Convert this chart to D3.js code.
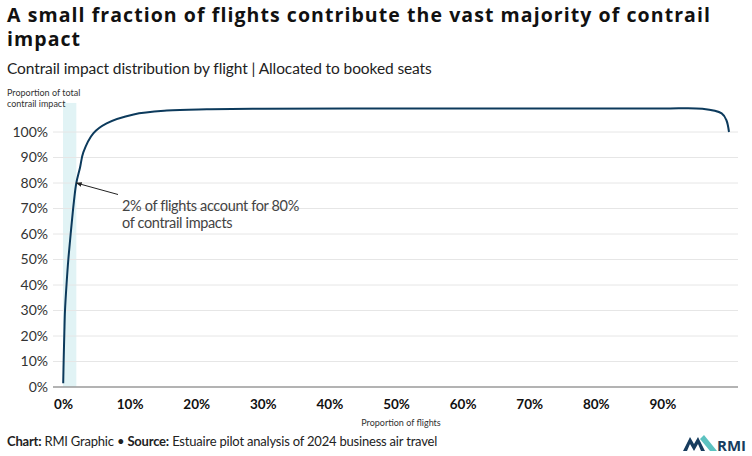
<!DOCTYPE html>
<html>
<head>
<meta charset="utf-8">
<script src="https://cdn.jsdelivr.net/npm/d3@7"></script>
<style>
  body { margin: 0; background: #fff; }
  svg { display: block; }
</style>
</head>
<body>
<svg width="752" height="456"></svg>
<script>
// proportion of flights (%) and cumulative contrail impact (%)
const flightShare = [0.03, 0.1, 0.2, 0.3, 0.55, 0.8, 1.15, 1.65, 2, 2.55, 3.05, 4.55, 6.55, 10.6, 15.6, 21.6, 30, 50, 70, 90, 96, 98.9, 99.6, 100];
const impactShare = [1.5, 10.5, 21, 30, 41, 50, 60, 73, 80, 86, 92, 99.5, 103.4, 106.9, 108.4, 108.9, 109.1, 109.2, 109.2, 109.2, 109.1, 107.3, 104.7, 100];
const yTicks = [0, 10, 20, 30, 40, 50, 60, 70, 80, 90, 100];
const xTicks = [0, 10, 20, 30, 40, 50, 60, 70, 80, 90];
const highlight = [0, 2];

const svg = d3.select("svg");
const font = "Lato, 'Open Sans', sans-serif";

const x = d3.scaleLinear().domain([0, 100]).range([63, 729]);
const y = d3.scaleLinear().domain([0, 100]).range([387, 132]);
const plotLeft = 53, plotRight = 738, plotTop = y(111.4);

// spread or squeeze letters so a text spans the wanted width
function fit(sel, w) {
  const n = sel.node();
  const len = n.getComputedTextLength();
  const chars = sel.text().length;
  sel.attr("letter-spacing", ((w - len) / chars).toFixed(3));
  return sel;
}

// titles
fit(svg.append("text").attr("x", 7).attr("y", 22).attr("font-family", "'Open Sans', sans-serif")
  .attr("font-weight", 700).attr("font-size", 19.5).attr("fill", "#111")
  .text("A small fraction of flights contribute the vast majority of contrail"), 704);
svg.append("text").attr("x", 7).attr("y", 46).attr("font-family", "'Open Sans', sans-serif")
  .attr("font-weight", 700).attr("font-size", 19.5).attr("fill", "#111")
  .attr("letter-spacing", svg.select("text").attr("letter-spacing"))
  .text("impact");
fit(svg.append("text").attr("x", 7).attr("y", 74).attr("font-family", font)
  .attr("font-size", 15.5).attr("fill", "#222")
  .text("Contrail impact distribution by flight | Allocated to booked seats"), 425);

// highlighted band
svg.append("rect")
  .attr("x", x(highlight[0])).attr("width", x(highlight[1]) - x(highlight[0]))
  .attr("y", plotTop).attr("height", y(0) - plotTop)
  .attr("fill", "#e1f3f5");

// grid
svg.append("g").selectAll("line").data(yTicks.slice(1)).join("line")
  .attr("x1", plotLeft).attr("x2", plotRight)
  .attr("y1", d => y(d)).attr("y2", d => y(d))
  .attr("stroke", "#e6e6e6").attr("stroke-width", 1);

// y axis labels
const yAxis = svg.append("g").attr("transform", "translate(48,0)")
  .call(d3.axisLeft(y).tickValues(yTicks).tickSize(0).tickPadding(0).tickFormat(d => d + "%"));
yAxis.select(".domain").remove();
yAxis.selectAll("text").attr("font-family", font).attr("font-size", 14).attr("fill", "#333");

// x axis
const xAxis = svg.append("g").attr("transform", `translate(0,${y(0)})`)
  .call(d3.axisBottom(x).tickValues(xTicks).tickSize(0).tickPadding(12).tickFormat(d => d + "%"));
xAxis.select(".domain").remove();
xAxis.selectAll("text").attr("font-family", font).attr("font-weight", 700).attr("font-size", 13.5).attr("fill", "#111");
svg.append("line").attr("x1", plotLeft).attr("x2", plotRight)
  .attr("y1", y(0)).attr("y2", y(0)).attr("stroke", "#9a9a9a").attr("stroke-width", 1.5);

// axis titles
svg.append("text").attr("x", 7).attr("y", 96).attr("font-family", font).attr("font-size", 9).attr("fill", "#333")
  .text("Proportion of total");
svg.append("text").attr("x", 7).attr("y", 107).attr("font-family", font).attr("font-size", 9).attr("fill", "#333")
  .text("contrail impact");
svg.append("text").attr("x", 401).attr("y", 426).attr("text-anchor", "middle").attr("font-family", font)
  .attr("font-size", 9).attr("fill", "#333").text("Proportion of flights");

// curve
const pts = flightShare.map((d, i) => [d, impactShare[i]]);
svg.append("path").datum(pts)
  .attr("d", d3.line().x(d => x(d[0])).y(d => y(d[1])).curve(d3.curveCatmullRom.alpha(0.5)))
  .attr("fill", "none").attr("stroke", "#0c3a5c").attr("stroke-width", 2);

// annotation
svg.append("defs").append("marker").attr("id", "arr").attr("viewBox", "0 0 10 10")
  .attr("refX", 9).attr("refY", 5).attr("markerWidth", 6).attr("markerHeight", 6).attr("orient", "auto")
  .append("path").attr("d", "M0,1L10,5L0,9Z").attr("fill", "#222");
svg.append("line").attr("x1", 118).attr("y1", 194.5).attr("x2", x(2)).attr("y2", y(80))
  .attr("stroke", "#222").attr("stroke-width", 1).attr("marker-end", "url(#arr)");
const ann1 = fit(svg.append("text").attr("x", 122).attr("y", 211).attr("font-family", font)
  .attr("font-size", 14.5).attr("fill", "#444").text("2% of flights account for 80%"), 177);
svg.append("text").attr("x", 122).attr("y", 228).attr("font-family", font)
  .attr("font-size", 14.5).attr("letter-spacing", ann1.attr("letter-spacing"))
  .attr("fill", "#444").text("of contrail impacts");

// footer
const foot = svg.append("text").attr("x", 7).attr("y", 446).attr("font-family", font)
  .attr("font-size", 13).attr("fill", "#222");
foot.append("tspan").attr("font-weight", 700).text("Chart:");
foot.append("tspan").text(" RMI Graphic \u2022 ");
foot.append("tspan").attr("font-weight", 700).text("Source:");
foot.append("tspan").text(" Estuaire pilot analysis of 2024 business air travel");
fit(foot, 430);

// logo
const logo = svg.append("g").attr("transform", "translate(683,435)");
logo.append("path").attr("d", "M0,16 L7,2 L11,9 L15,2 L22,16 L18,16 L15,9 L11,16 L7,9 L4,16Z").attr("fill", "#173c5e");
logo.append("path").attr("d", "M17,4 L21,0 L34,16 L27,16Z").attr("fill", "#5cc2c0");
logo.append("text").attr("x", 34).attr("y", 16).attr("font-family", "'Open Sans', sans-serif")
  .attr("font-weight", 700).attr("font-size", 15).attr("fill", "#173c5e").text("RMI");
</script>
</body>
</html>
